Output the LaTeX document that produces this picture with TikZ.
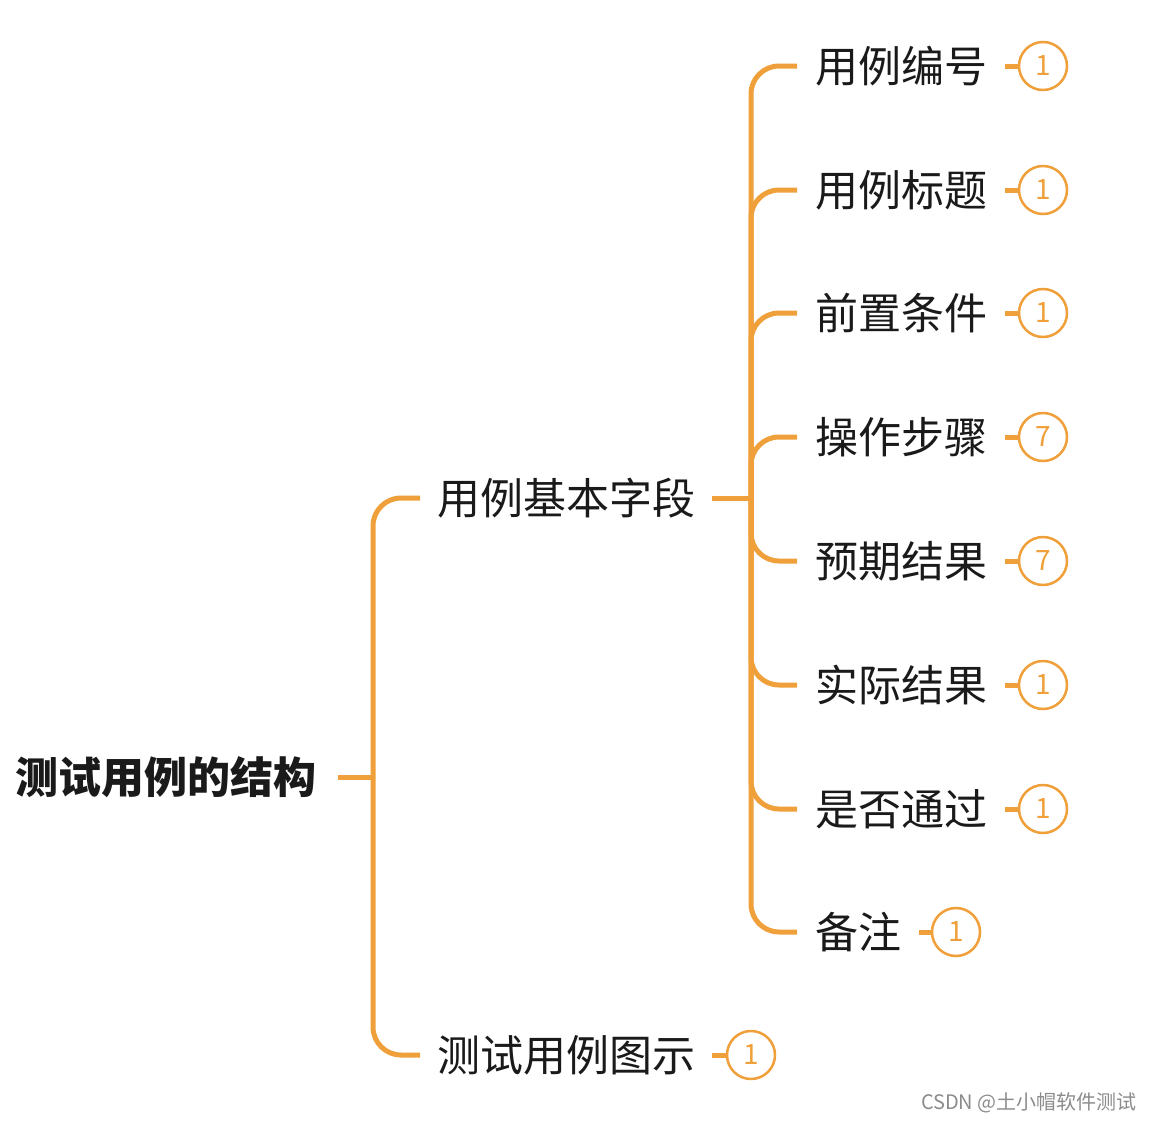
\documentclass[tikz,border=0pt]{standalone}
\usepackage{fontspec}
\newfontfamily\cjk{Noto Sans CJK SC}
\definecolor{br}{RGB}{240,160,58}
\definecolor{ink}{RGB}{26,26,26}
\begin{document}
\begin{tikzpicture}[x=1pt,y=-1pt,
 branch/.style={draw=br,line width=5pt},
 curve/.style={branch,rounded corners=28pt},
 txt/.style={font=\cjk\fontsize{43}{50}\selectfont, text=ink, inner ysep=0pt},
 num/.style={circle,draw=br,line width=2.5pt,minimum size=48pt,inner sep=0pt,text=br,font=\cjk\fontsize{28}{30}\selectfont}]
\useasboundingbox[fill=white] (0,0) rectangle (1152,1122);

% root
\node[txt, font=\cjk\bfseries\fontsize{43}{50}\selectfont, inner xsep=21pt, anchor=east] (root) at (338,777) {测试用例的结构};
\coordinate (j0) at (373,777);

% level 1
\node[txt, inner xsep=17pt, anchor=west] (la) at (420,498) {用例基本字段};
\node[txt, inner xsep=17pt, anchor=west] (lb) at (420,1055) {测试用例图示};
\coordinate (j1) at (751,498);

% level 2
\node[txt, inner xsep=18pt, anchor=west] (c1) at (797,66) {用例编号};
\node[txt, inner xsep=18pt, anchor=west] (c2) at (797,190) {用例标题};
\node[txt, inner xsep=18pt, anchor=west] (c3) at (797,313) {前置条件};
\node[txt, inner xsep=18pt, anchor=west] (c4) at (797,437) {操作步骤};
\node[txt, inner xsep=18pt, anchor=west] (c5) at (797,561) {预期结果};
\node[txt, inner xsep=18pt, anchor=west] (c6) at (797,685) {实际结果};
\node[txt, inner xsep=18pt, anchor=west] (c7) at (797,809) {是否通过};
\node[txt, inner xsep=18pt, anchor=west] (c8) at (797,932) {备注};

% count markers
\node[num] (k1) at (1043,66) {1};
\node[num] (k2) at (1043,190) {1};
\node[num] (k3) at (1043,313) {1};
\node[num] (k4) at (1043,437) {7};
\node[num] (k5) at (1043,561) {7};
\node[num] (k6) at (1043,685) {1};
\node[num] (k7) at (1043,809) {1};
\node[num] (k8) at (956,932) {1};
\node[num] (kb) at (751,1055) {1};

% connectors
\draw[branch] (root.east) -- (j0);
\draw[curve] (j0) |- (la.west);
\draw[curve] (j0) |- (lb.west);
\draw[branch] (la.east) -- (j1);
\foreach \c in {c1,c2,c3,c4,c5,c6,c7,c8}{
  \draw[curve] (j1) |- (\c.west);
}
\foreach \c/\k in {c1/k1,c2/k2,c3/k3,c4/k4,c5/k5,c6/k6,c7/k7,c8/k8,lb/kb}{
  \draw[branch] (\c.east) -- (\k.west);
}

% watermark
\node[anchor=east, inner sep=0pt, text=black!45, font=\cjk\fontsize{20}{22}\selectfont] (wm) at (1137,1103) {CSDN @土小帽软件测试};
\end{tikzpicture}
\end{document}
